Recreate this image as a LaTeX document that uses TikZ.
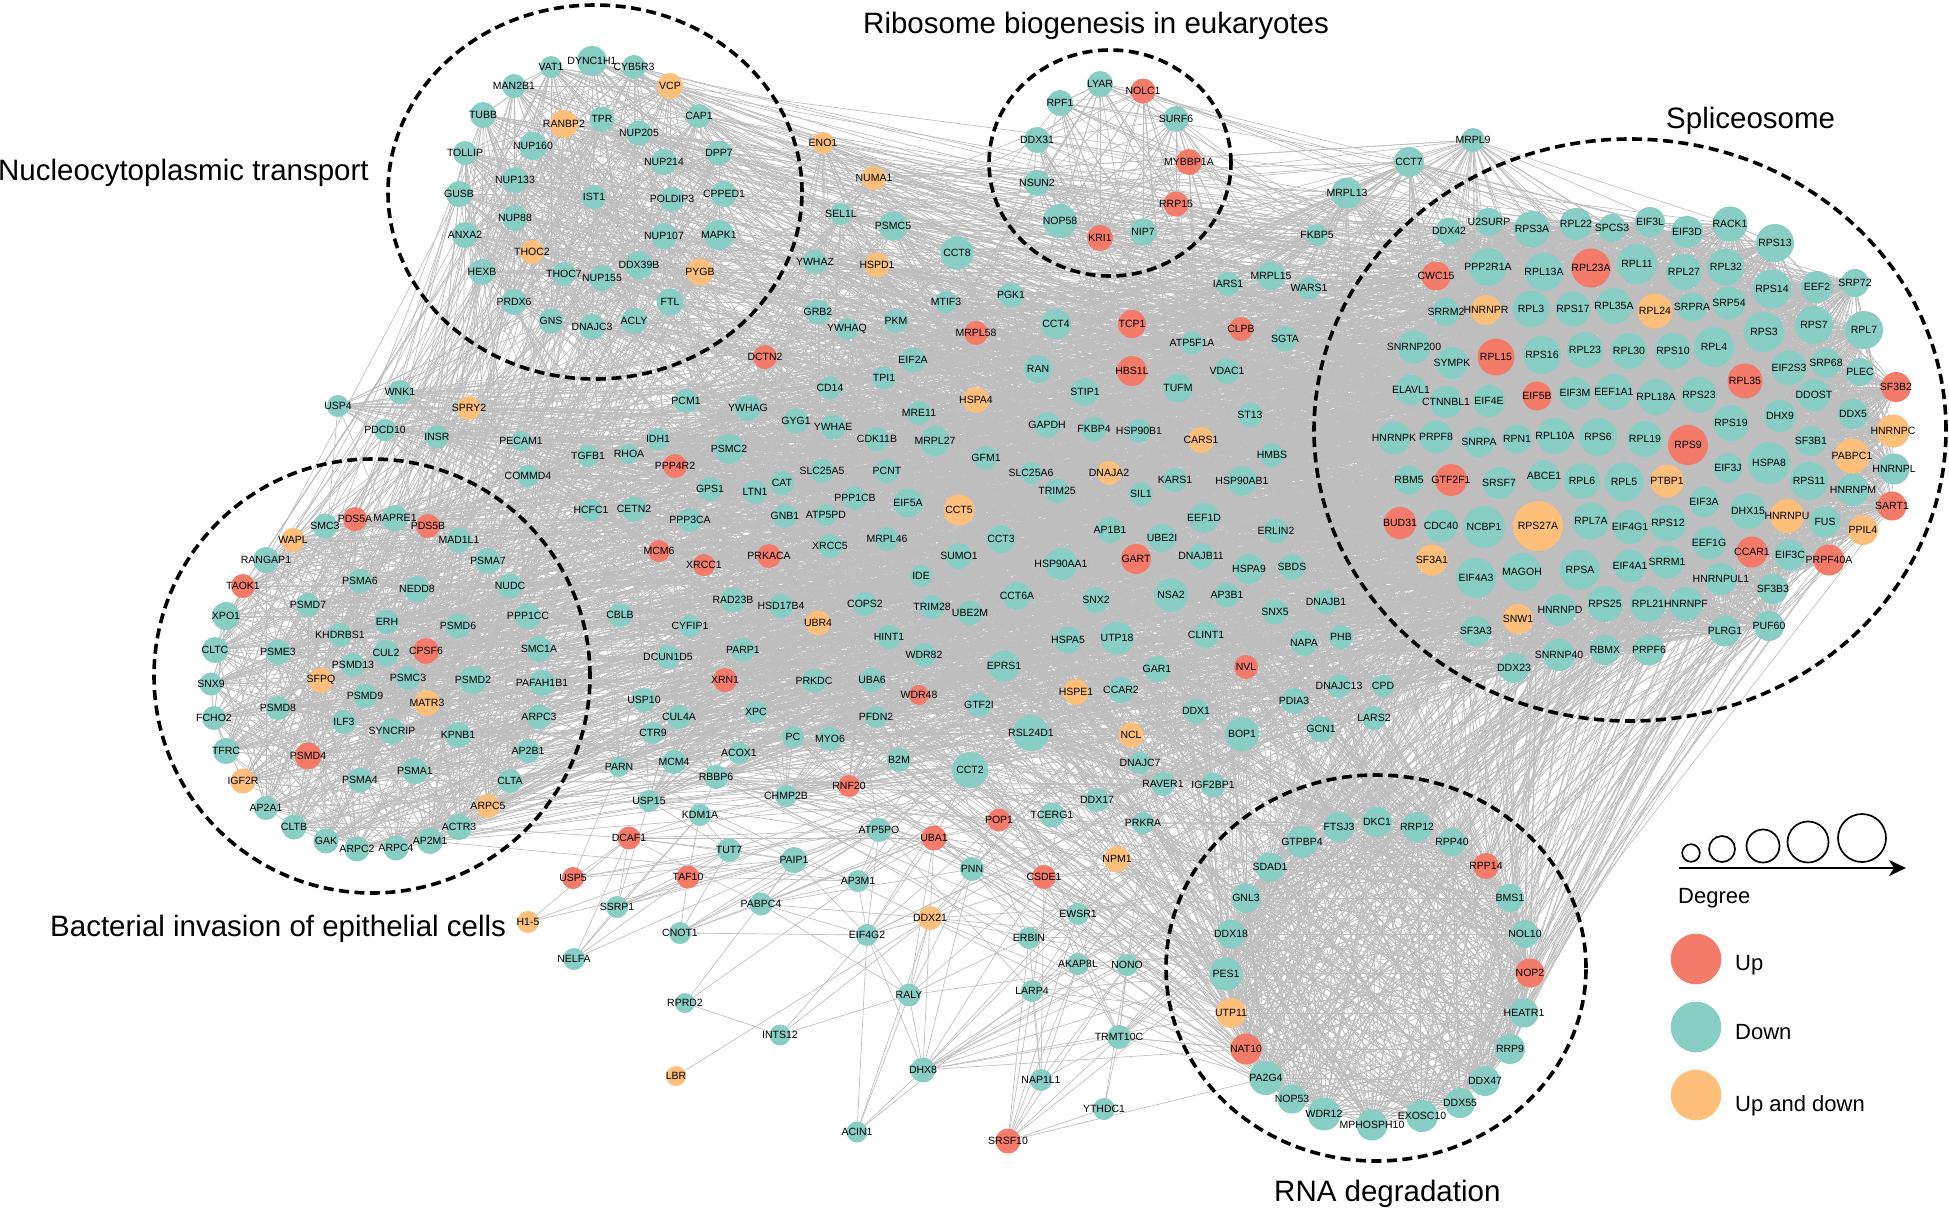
\documentclass[tikz,border=0pt]{standalone}
\usepackage{tikz}
\usepackage{fontspec}
\setmainfont{Liberation Sans}
\usetikzlibrary{arrows.meta}
\definecolor{cup}{RGB}{244,122,106}
\definecolor{cdn}{RGB}{137,206,196}
\definecolor{cud}{RGB}{253,191,121}
\definecolor{edgec}{RGB}{190,190,190}
\pgfdeclarelayer{bg}\pgfsetlayers{bg,main}
\tikzset{
 gene/.style={circle,draw=none,inner sep=0pt,outer sep=0pt},
 U/.style={fill=cup}, D/.style={fill=cdn}, B/.style={fill=cud},
 lab/.style={font=\fontsize{10.5}{11}\selectfont,inner sep=0pt,text=black},
 edge/.style={draw=edgec,line width=0.65pt},
 clus/.style={draw=black,line width=3.6pt,dash pattern=on 10pt off 5.5pt},
 title/.style={font=\fontsize{29.5}{32}\selectfont,inner sep=0pt,anchor=base west},
 legtxt/.style={font=\fontsize{22}{24}\selectfont,inner sep=0pt,anchor=base west},
 deg/.style={circle,draw=black,line width=1.7pt,fill=white,inner sep=0pt},
}
\newcommand\mkrand[2]{\gdef\mytmpl{}\foreach \x in #2 {\xdef\mytmpl{\mytmpl{\x}}}\edef\mytmpcmd{\noexpand\pgfmathdeclarerandomlist{#1}{\mytmpl}}\mytmpcmd}
\newcommand\links[3]{\foreach \src in #1 {\foreach \k in {1,...,#3} {\pgfmathrandomitem{\tgt}{#2}\draw[edge] (\src.center) -- (\tgt.center);}}}
\newcommand\placenodes[1]{\foreach \nm/\xx/\yy/\cc/\rad in #1 {\node[gene,\cc,minimum size=\rad*2pt] (\nm) at (\xx,\yy) {};}}
\newcommand\placelabels[1]{\foreach \nm/\xx/\yy/\cc/\rad in #1 {\node[lab] (\nm-t) at (\xx,\yy) {\nm};}}
\def\NTlist{TUBB,TOLLIP,GUSB,ANXA2,HEXB,VAT1,DYNC1H1,CYB5R3,MAN2B1,VCP,RANBP2,TPR,CAP1,NUP205,NUP160,DPP7,NUP214,NUP133,IST1,POLDIP3,CPPED1,NUP88,NUP107,MAPK1,THOC2,THOC7,NUP155,DDX39B,PYGB,PRDX6,FTL,GNS,DNAJC3,ACLY}
\def\RBlist{LYAR,NOLC1,RPF1,SURF6,DDX31,MYBBP1A,NSUN2,RRP15,NOP58,KRI1,NIP7}
\def\SPlist{DDX42,U2SURP,RPS3A,RPL22,SPCS3,EIF3L,EIF3D,RACK1,RPS13,CWC15,PPP2R1A,RPL13A,RPL23A,RPL11,RPL27,RPL32,RPS14,EEF2,SRP72,SRRM2,HNRNPR,RPL3,RPS17,RPL35A,RPL24,SRPRA,SRP54,RPS3,RPS7,RPL7,SNRNP200,SYMPK,RPL15,RPS16,RPL23,RPL30,RPS10,RPL4,RPL35,EIF2S3,SRP68,PLEC,SF3B2,ELAVL1,CTNNBL1,EIF4E,EIF5B,EIF3M,EEF1A1,RPL18A,RPS23,DDOST,RPS19,DHX9,DDX5,HNRNPC,HNRNPK,PRPF8,SNRPA,RPN1,RPL10A,RPS6,RPL19,RPS9,SF3B1,PABPC1,HNRNPL,EIF3J,HSPA8,RPS11,HNRNPM,SART1,RBM5,GTF2F1,SRSF7,ABCE1,RPL6,RPL5,PTBP1,EIF3A,DHX15,HNRNPU,FUS,PPIL4,BUD31,CDC40,NCBP1,RPS27A,RPL7A,EIF4G1,RPS12,EEF1G,CCAR1,EIF3C,PRPF40A,SF3A1,EIF4A3,MAGOH,RPSA,EIF4A1,SRRM1,HNRNPUL1,SF3B3,SF3A3,SNW1,HNRNPD,RPS25,RPL21,HNRNPF,PLRG1,PUF60,SNRNP40,RBMX,PRPF6,DDX23}
\def\BIlist{PDS5A,MAPRE1,PDS5B,SMC3,WAPL,MAD1L1,RANGAP1,PSMA7,TAOK1,PSMA6,NEDD8,NUDC,PSMD7,XPO1,PPP1CC,ERH,PSMD6,KHDRBS1,CLTC,PSME3,CUL2,CPSF6,SMC1A,PSMD13,SNX9,SFPQ,PSMC3,PSMD2,PAFAH1B1,PSMD9,MATR3,PSMD8,ARPC3,FCHO2,ILF3,SYNCRIP,KPNB1,TFRC,PSMD4,AP2B1,PSMA4,PSMA1,CLTA,IGF2R,ARPC5,AP2A1,ACTR3,CLTB,GAK,ARPC2,ARPC4,AP2M1}
\def\RNAlist{FTSJ3,DKC1,RRP12,RPP40,GTPBP4,SDAD1,RPP14,GNL3,BMS1,DDX18,NOL10,PES1,NOP2,UTP11,HEATR1,NAT10,RRP9,PA2G4,DDX47,NOP53,DDX55,WDR12,EXOSC10,MPHOSPH10}
\def\CENlist{ENO1,NUMA1,SEL1L,PSMC5,CCT8,YWHAZ,HSPD1,MTIF3,GRB2,YWHAQ,PKM,MRPL58,DCTN2,EIF2A,TPI1,CD14,PCM1,MRPL9,CCT7,MRPL13,FKBP5,IARS1,MRPL15,WARS1,PGK1,CCT4,TCP1,CLPB,ATP5F1A,SGTA,RAN,HBS1L,VDAC1,TUFM,STIP1,HSPA4,WNK1,USP4,SPRY2,PDCD10,INSR,YWHAG,GYG1,YWHAE,MRE11,PECAM1,IDH1,CDK11B,MRPL27,TGFB1,RHOA,PSMC2,PPP4R2,COMMD4,SLC25A5,PCNT,GPS1,LTN1,CAT,PPP1CB,EIF5A,CCT5,HCFC1,CETN2,PPP3CA,GNB1,ATP5PD,MCM6,XRCC1,PRKACA,XRCC5,MRPL46,SUMO1,IDE,RAD23B,HSD17B4,COPS2,TRIM28,UBE2M,CBLB,CYFIP1,UBR4,HINT1,PARP1,DCUN1D5,WDR82,XRN1,PRKDC,UBA6,WDR48,USP10,CUL4A,XPC,PFDN2,CTR9,PC,MYO6,ACOX1,B2M,PARN,MCM4,RBBP6,RNF20,CHMP2B,USP15,CCT2,ST13,GAPDH,FKBP4,HSP90B1,CARS1,HMBS,GFM1,SLC25A6,DNAJA2,KARS1,HSP90AB1,TRIM25,SIL1,EEF1D,ERLIN2,AP1B1,CCT3,UBE2I,GART,HSP90AA1,DNAJB11,HSPA9,SBDS,NSA2,CCT6A,SNX2,AP3B1,DNAJB1,SNX5,CLINT1,UTP18,HSPA5,NAPA,PHB,EPRS1,GAR1,NVL,HSPE1,CCAR2,DNAJC13,CPD,PDIA3,GTF2I,DDX1,LARS2,GCN1,RSL24D1,NCL,BOP1,DNAJC7,RAVER1,IGF2BP1,DDX17}
\def\LOWlist{POP1,TCERG1,PRKRA,NPM1,CSDE1,PNN,EWSR1,ERBIN,AKAP8L,NONO,LARP4,TRMT10C}
% name/x/y/colour/radius
\def\NTnodes{TUBB/483/115/D/13,TOLLIP/465/153/D/12,GUSB/459/194/D/13,ANXA2/465/235/D/13,HEXB/482/272/D/13,VAT1/551/67/D/11,DYNC1H1/592/61/D/15,CYB5R3/634/67/D/12,MAN2B1/514/86/D/12,VCP/670/86/B/13,RANBP2/564/124/B/14,TPR/602/119/D/12.5,CAP1/699/116/D/12,NUP205/639/133/D/12.5,NUP160/533/146/D/14,DPP7/719/153/D/12.5,NUP214/664/162/D/13,NUP133/515/180/D/13,IST1/594/197/D/12,POLDIP3/672/199/D/12.5,CPPED1/724/194/D/13,NUP88/515/218/D/13,NUP107/664/236/D/13,MAPK1/719/235/D/15,THOC2/532/252/B/12,THOC7/564/274/D/12,NUP155/602/278/D/13,DDX39B/639/265/D/14,PYGB/700/272/B/13.5,PRDX6/514/302/D/13,FTL/670/302/D/13.5,GNS/551/321/D/12.5,DNAJC3/592/327/D/13,ACLY/634/321/D/13}
\def\RBnodes{LYAR/1100/84/D/13,NOLC1/1143/91/U/12.5,RPF1/1060/103/D/13,SURF6/1176/119/D/13,DDX31/1037/140/D/13,MYBBP1A/1189/162/U/13,NSUN2/1037/183/D/13,RRP15/1176/204/U/12.5,NOP58/1060/221/D/17,KRI1/1100/238/U/13,NIP7/1143/232/D/13.5}
\def\CENnodesA{ENO1/823/143/B/11,NUMA1/874/178/B/12,SEL1L/841/214/D/11,PSMC5/893/226/D/14.5,CCT8/957/253/D/16.5,YWHAZ/815/262/D/12,HSPD1/877/265/B/12.5,MTIF3/946/302/D/11,GRB2/818/312/D/12.5,YWHAQ/847/329/D/11,PKM/896/321/D/12,MRPL58/976/333/U/12,DCTN2/765/357/U/12,EIF2A/913/360/D/12.5,TPI1/884/378/D/11.5,CD14/830/388/D/11.5,PCM1/686/401/D/12,MRPL9/1473/140/D/12,CCT7/1409/162/D/15,MRPL13/1347/193/D/15.5,FKBP5/1317/235/D/11,IARS1/1228/284/D/12,MRPL15/1271/276/D/14,WARS1/1309/288/D/11.5,PGK1/1011/295/D/12.5,CCT4/1056/324/D/15,TCP1/1132/324/U/14,CLPB/1241/329/U/12,ATP5F1A/1192/343/D/11.5,SGTA/1285/339/D/12.5,RAN/1038/369/D/14,HBS1L/1132/371/U/15,VDAC1/1227/371/D/13,TUFM/1178/388/D/14.5,STIP1/1085/392/D/14,HSPA4/976/400/B/13,WNK1/400/392/D/12,USP4/338/406/D/11,SPRY2/469/408/B/12,PDCD10/385/430/D/11,INSR/437/437/D/11.5}
\def\CENnodesB{YWHAG/748/408/D/13,GYG1/796/421/D/12.5,YWHAE/833/427/D/12.5,MRE11/919/413/D/12,PECAM1/521/441/D/10,IDH1/658/439/D/11,CDK11B/877/439/D/12,MRPL27/935/441/D/15,TGFB1/588/456/D/11,RHOA/629/454/D/10,PSMC2/729/449/D/15,PPP4R2/675/466/U/12,COMMD4/528/476/D/11,SLC25A5/822/471/D/12,PCNT/887/471/D/12,GPS1/710/489/D/12,LTN1/755/492/D/12,CAT/782/483/D/12,PPP1CB/855/498/D/12,EIF5A/908/503/D/14.5,CCT5/959/510/B/15.5,HCFC1/591/510/D/11,CETN2/634/509/D/12.5,PPP3CA/690/520/D/12,GNB1/785/516/D/12,ATP5PD/826/515/D/11,MCM6/659/551/U/11,XRCC1/704/565/U/11,PRKACA/769/556/U/12,XRCC5/830/546/D/12,MRPL46/887/539/D/12,SUMO1/959/556/D/13,IDE/921/576/D/11,RAD23B/733/600/D/12.5,HSD17B4/781/606/D/12,COPS2/865/604/D/12,TRIM28/932/607/D/12,UBE2M/970/613/D/12.5,CBLB/620/615/D/12,CYFIP1/690/626/D/11,UBR4/818/623/B/12.5,HINT1/889/637/D/12,PARP1/743/650/D/12,DCUN1D5/668/657/D/12,WDR82/924/655/D/12,XRN1/725/680/U/12,PRKDC/814/681/D/12,UBA6/872/680/D/12,WDR48/919/695/U/10,USP10/644/700/D/12,CUL4A/679/717/D/12,XPC/756/712/D/11,PFDN2/876/717/D/11,CTR9/653/733/D/11,PC/793/737/D/11,MYO6/830/739/D/12,ACOX1/739/753/D/11,B2M/899/760/D/12,PARN/619/767/D/10,MCM4/674/762/D/12,RBBP6/716/777/D/12,RNF20/849/786/U/11,CHMP2B/786/796/D/11,USP15/649/801/D/11,CCT2/970/770/D/18}
\def\CENnodesC{ST13/1250/415/D/12.5,GAPDH/1047/425/D/13,FKBP4/1094/429/D/12.5,HSP90B1/1139/431/D/12,CARS1/1201/440/B/13,HMBS/1272/455/D/12,GFM1/986/458/D/12,SLC25A6/1031/473/D/11,DNAJA2/1109/473/B/12,KARS1/1175/480/D/12,HSP90AB1/1242/481/D/15,TRIM25/1057/491/D/12,SIL1/1141/494/D/12,EEF1D/1204/518/D/15,ERLIN2/1276/531/D/12.5,AP1B1/1110/530/D/13,CCT3/1001/539/D/14,UBE2I/1162/538/D/14,GART/1136/559/U/15,HSP90AA1/1061/564/D/16,DNAJB11/1201/556/D/13,HSPA9/1249/569/D/15,SBDS/1292/567/D/13,NSA2/1171/595/D/17,CCT6A/1017/596/D/14,SNX2/1096/600/D/13,AP3B1/1227/595/D/12.5,DNAJB1/1326/602/D/12.5,SNX5/1275/612/D/12.5,CLINT1/1206/635/D/13,UTP18/1117/638/D/16.5,HSPA5/1068/640/D/13.5,NAPA/1304/643/D/13,PHB/1341/637/D/12,EPRS1/1004/666/D/15.5,GAR1/1157/669/D/13,NVL/1246/667/U/12,HSPE1/1076/692/B/13,CCAR2/1121/690/D/13,DNAJC13/1339/686/D/12,CPD/1383/686/D/11,PDIA3/1294/701/D/13,GTF2I/979/705/D/12,DDX1/1196/711/D/12.5,LARS2/1374/718/D/12,GCN1/1321/729/D/13,RSL24D1/1031/733/D/18,NCL/1131/735/B/12.5,BOP1/1242/734/D/17,DNAJC7/1140/763/D/11,RAVER1/1163/784/D/12,IGF2BP1/1213/785/D/12.5,DDX17/1097/800/D/12}
\def\SPnodesA{DDX42/1449/231/D/13.5,U2SURP/1489/222/D/14,RPS3A/1532/229/D/18,RPL22/1576/224/D/16,SPCS3/1612/228/D/14,EIF3L/1650/222/D/15,EIF3D/1687/232/D/16,RACK1/1730/224/D/17.5,RPS13/1775/243/D/19,CWC15/1436/276/U/14.5,PPP2R1A/1488/267/D/19,RPL13A/1544/272/D/19,RPL23A/1591/268/U/19.5,RPL11/1637/264/D/20,RPL27/1684/272/D/18,RPL32/1726/267/D/18.5,RPS14/1772/289/D/19.5,EEF2/1817/287/D/16,SRP72/1855/283/D/14,SRRM2/1446/312/D/14,HNRNPR/1486/310/B/15,RPL3/1531/309/D/18.5,RPS17/1573/309/D/17.5,RPL35A/1614/306/D/18,RPL24/1655/311/B/17.5,SRPRA/1692/307/D/14.5,SRP54/1729/303/D/16.5,RPS3/1764/332/D/20,RPS7/1814/325/D/19,RPL7/1864/330/D/19,SNRNP200/1414/347/D/16.5,SYMPK/1452/363/D/16,RPL15/1496/357/U/18.5,RPS16/1542/355/D/19,RPL23/1585/350/D/18,RPL30/1629/351/D/18,RPS10/1673/351/D/18,RPL4/1714/347/D/20,RPL35/1745/381/U/17.5,EIF2S3/1789/368/D/17.5,SRP68/1826/363/D/15,PLEC/1860/372/D/14,SF3B2/1896/387/U/15,ELAVL1/1411/390/D/15.5,CTNNBL1/1446/402/D/16,EIF4E/1489/401/D/16,EIF5B/1537/396/U/14.5,EIF3M/1575/393/D/16,EEF1A1/1614/392/D/18,RPL18A/1656/397/D/18,RPS23/1699/395/D/18,DDOST/1814/395/D/16}
\def\SPnodesB{RPS19/1731/423/D/18,DHX9/1780/416/D/16,DDX5/1853/414/D/15,HNRNPC/1893/431/B/16.5,HNRNPK/1394/438/D/16.5,PRPF8/1436/437/D/16.5,SNRPA/1479/442/D/15,RPN1/1517/439/D/14.5,RPL10A/1555/436/D/18,RPS6/1598/437/D/19,RPL19/1645/439/D/18,RPS9/1688/445/U/20,SF3B1/1811/441/D/15,PABPC1/1852/456/B/17.5,HNRNPL/1894/469/D/15.5,EIF3J/1728/468/D/14.5,HSPA8/1769/463/D/21,RPS11/1809/481/D/19,HNRNPM/1853/490/D/16,SART1/1892/506/U/14.5,RBM5/1409/480/D/14.5,GTF2F1/1451/480/U/16,SRSF7/1499/483/D/16,ABCE1/1544/476/D/15.5,RPL6/1582/481/D/18,RPL5/1624/482/D/19.5,PTBP1/1667/481/B/16.5,EIF3A/1704/502/D/15,DHX15/1748/511/D/18,HNRNPU/1787/516/B/17,FUS/1825/522/D/15.5,PPIL4/1863/530/B/15,BUD31/1400/523/U/16,CDC40/1441/526/D/16.5,NCBP1/1484/527/D/21,RPS27A/1538/526/B/25,RPL7A/1591/521/D/18.5,EIF4G1/1630/527/D/17,RPS12/1668/523/D/18.5,EEF1G/1709/543/D/16.5,CCAR1/1752/552/U/15.5,EIF3C/1790/555/D/15.5,PRPF40A/1829/560/U/15.5,SF3A1/1432/560/B/15.5,EIF4A3/1476/578/D/20,MAGOH/1522/572/D/19,RPSA/1580/570/D/20,EIF4A1/1630/566/D/16.5,SRRM1/1667/562/D/16.5,HNRNPUL1/1721/579/D/16,SF3B3/1773/589/D/15,SF3A3/1476/631/D/15,SNW1/1518/619/B/15,HNRNPD/1560/610/D/16,RPS25/1605/604/D/18,RPL21/1648/604/D/18,HNRNPF/1686/604/D/17,PLRG1/1725/631/D/15.5,PUF60/1769/626/D/15,SNRNP40/1559/655/D/16,RBMX/1605/650/D/15,PRPF6/1649/650/D/15.5,DDX23/1514/668/D/15}
\def\BInodes{PDS5A/355/519/U/12,MAPRE1/395/518/D/13,PDS5B/428/526/U/12,SMC3/325/526/D/12.5,WAPL/293/540/B/12,MAD1L1/459/540/D/12.5,RANGAP1/266/560/D/13,PSMA7/488/561/D/13,TAOK1/243/586/U/12,PSMA6/360/581/D/12,NEDD8/417/589/D/13,NUDC/510/586/D/12.5,PSMD7/308/605/D/12,XPO1/226/616/D/14,PPP1CC/528/616/D/13,ERH/387/622/D/12,PSMD6/458/626/D/12.5,KHDRBS1/340/635/D/12,CLTC/215/650/D/13,PSME3/278/652/D/12.5,CUL2/386/653/D/13,CPSF6/426/651/U/13,SMC1A/539/649/D/13,PSMD13/353/665/D/12,SNX9/211/684/D/11.5,SFPQ/321/680/B/12.5,PSMC3/408/678/D/12,PSMD2/473/680/D/14,PAFAH1B1/542/683/D/13,PSMD9/365/696/D/12,MATR3/427/703/B/13,PSMD8/278/708/D/12,ARPC3/539/717/D/12.5,FCHO2/214/718/D/12,ILF3/344/722/D/12,SYNCRIP/392/731/D/13,KPNB1/458/735/D/13,TFRC/226/751/D/13,PSMD4/308/756/U/13.5,AP2B1/528/751/D/12,PSMA4/360/780/D/12.5,PSMA1/415/771/D/13,CLTA/510/781/D/12,IGF2R/243/781/B/12.5,ARPC5/488/806/B/12,AP2A1/266/808/D/12,ACTR3/459/827/D/13,CLTB/294/827/D/12.5,GAK/326/841/D/12.5,ARPC2/357/849/D/12.5,ARPC4/396/848/D/12.5,AP2M1/430/841/D/13}
\def\PERnodes{USP5/573/878/U/11,DCAF1/629/838/U/11.5,KDM1A/700/815/D/11,TUT7/729/850/D/12,PAIP1/794/860/D/13,TAF10/688/877/U/11.5,SSRP1/617/907/D/11,PABPC4/761/904/D/11.5,CNOT1/680/933/D/11,NELFA/574/959/D/11,ATP5PO/879/830/D/12,UBA1/934/838/U/12.5,AP3M1/858/881/D/11,DDX21/930/918/B/12,EIF4G2/867/935/D/11,RALY/909/995/D/11.5,RPRD2/685/1003/D/10,INTS12/780/1035/D/10.5,DHX8/923/1070/D/12.5,LBR/676/1076/B/10,ACIN1/857/1132/D/10.5,PNN/972/869/D/12,POP1/999/820/U/11.5,TCERG1/1052/815/D/12.5,PRKRA/1143/823/D/11,NPM1/1117/859/B/13,CSDE1/1044/877/U/12,EWSR1/1078/914/D/11,ERBIN/1029/938/D/11,AKAP8L/1078/964/D/11,NONO/1127/965/D/11,LARP4/1032/991/D/11,TRMT10C/1119/1037/D/12,NAP1L1/1041/1080/D/11,YTHDC1/1104/1109/D/11,SRSF10/1008/1141/U/12.5}
\def\RNAnodes{FTSJ3/1339/827/D/15,DKC1/1377/822/D/15,RRP12/1417/827/D/15,RPP40/1452/842/D/14,GTPBP4/1302/842/D/16,SDAD1/1270/867/D/14.5,RPP14/1486/866/U/13,GNL3/1246/898/D/14.5,BMS1/1510/898/D/14,DDX18/1231/934/D/14.5,NOL10/1525/934/D/14,PES1/1226/974/D/16.5,NOP2/1530/973/U/14.5,UTP11/1231/1013/B/15,HEATR1/1524/1013/D/14.5,NAT10/1246/1049/U/15.5,RRP9/1510/1049/D/15,PA2G4/1266/1078/D/17,DDX47/1485/1081/D/15,NOP53/1292/1099/D/14.5,DDX55/1460/1103/D/15,WDR12/1324/1114/D/16.5,EXOSC10/1422/1116/D/16,MPHOSPH10/1372/1125/D/15.5}
\begin{document}
\begin{tikzpicture}[x=1pt,y=-1pt]
\useasboundingbox (0,0) rectangle (1949,1208);
% ---------- node discs
\placenodes{\NTnodes}\placenodes{\RBnodes}\placenodes{\CENnodesA}\placenodes{\CENnodesB}
\placenodes{\CENnodesC}\placenodes{\SPnodesA}\placenodes{\SPnodesB}\placenodes{\BInodes}
\placenodes{\PERnodes}\placenodes{\RNAnodes}
\node[gene,B,minimum size=22pt] (H15) at (528,922) {};
% ---------- edges (background layer)
\mkrand{nt}{\NTlist}\mkrand{rb}{\RBlist}\mkrand{sp}{\SPlist}\mkrand{bi}{\BIlist}
\mkrand{rna}{\RNAlist}\mkrand{cen}{\CENlist}
\pgfmathsetseed{4711}
\begin{pgfonlayer}{bg}
\fill[white] (0,0) rectangle (1949,1208);
\links{\SPlist}{sp}{36}
\links{\SPlist}{cen}{4}
\links{\NTlist}{nt}{11}
\links{\NTlist}{cen}{6}
\links{\NTlist}{sp}{5}
\links{\NTlist}{bi}{3}
\links{\RBlist}{rb}{7}
\links{\RBlist}{cen}{4}
\links{\RBlist}{sp}{4}
\links{\RBlist}{rna}{3}
\links{\BIlist}{bi}{11}
\links{\BIlist}{cen}{7}
\links{\BIlist}{sp}{4}
\links{\BIlist}{nt}{1}
\links{\RNAlist}{rna}{22}
\links{\RNAlist}{sp}{9}
\links{\RNAlist}{cen}{6}
\links{\CENlist}{cen}{8}
\links{\CENlist}{sp}{6}
\links{\CENlist}{rna}{1}
\links{\LOWlist}{sp}{3}
\links{\LOWlist}{cen}{3}
\links{\LOWlist}{rna}{3}
\links{{MRPL9,CCT7,MRPL13}}{sp}{12}
\links{{PLRG1,PUF60,SF3B3,HNRNPUL1,PRPF6,HNRNPF,RBMX,SNRNP40}}{rna}{7}
\foreach \p/\q in {H15/DCAF1,H15/PAIP1,H15/TUT7,NELFA/SSRP1,NELFA/DCAF1,NELFA/TAF10,NELFA/PAIP1,NELFA/KDM1A,
SSRP1/DCAF1,SSRP1/TAF10,SSRP1/TUT7,SSRP1/KDM1A,SSRP1/USP15,SSRP1/PAIP1,SSRP1/CCT2,SSRP1/ATP5PO,
USP5/DCAF1,USP5/TUT7,USP5/PAIP1,USP5/PARN,USP5/ATP5PO,
DCAF1/TUT7,DCAF1/PABPC4,DCAF1/ATP5PO,DCAF1/CCT2,DCAF1/UBA1,DCAF1/KDM1A,DCAF1/ACTR3,DCAF1/PAIP1,
TAF10/CNOT1,TAF10/TUT7,TAF10/AP3M1,TAF10/CCT2,TAF10/PAIP1,TAF10/KDM1A,
CNOT1/PAIP1,CNOT1/PABPC4,CNOT1/ATP5PO,CNOT1/UBA1,CNOT1/EIF4G2,CNOT1/TUT7,CNOT1/CCT2,
PABPC4/PAIP1,PABPC4/EIF4G2,PABPC4/AP3M1,PABPC4/RALY,PABPC4/CCT2,PABPC4/PNN,PABPC4/DDX21,PABPC4/UBA1,PABPC4/ATP5PO,PABPC4/PABPC1,
RPRD2/INTS12,RPRD2/PAIP1,RPRD2/AP3M1,INTS12/RALY,INTS12/EIF4G2,INTS12/DDX21,LBR/DDX21,
ACIN1/RALY,ACIN1/DHX8,ACIN1/EIF4G2,ACIN1/LARP4,ACIN1/DDX21,
DHX8/DDX21,DHX8/RALY,DHX8/EIF4G2,DHX8/PNN,DHX8/NONO,DHX8/AKAP8L,DHX8/EWSR1,DHX8/TRMT10C,DHX8/CSDE1,DHX8/NPM1,DHX8/PES1,DHX8/UTP11,DHX8/NAT10,DHX8/SDAD1,DHX8/GNL3,DHX8/DDX18,
RALY/DDX21,RALY/EIF4G2,RALY/NONO,RALY/PNN,RALY/CSDE1,RALY/EWSR1,RALY/UBA1,
EIF4G2/PAIP1,EIF4G2/AP3M1,EIF4G2/ATP5PO,EIF4G2/UBA1,EIF4G2/CCT2,EIF4G2/DDX21,EIF4G2/PABPC1,EIF4G2/EIF4A1,EIF4G2/EIF4E,
DDX21/UBA1,DDX21/NPM1,DDX21/PNN,DDX21/NAT10,DDX21/PES1,DDX21/GNL3,DDX21/BOP1,DDX21/NCL,DDX21/NOP2,
AP3M1/ATP5PO,AP3M1/PAIP1,AP3M1/CCT2,AP3M1/UBA1,AP3M1/AP2M1,AP3M1/AP1B1,AP3M1/AP3B1,
ATP5PO/UBA1,ATP5PO/CCT2,ATP5PO/ATP5F1A,ATP5PO/PAIP1,ATP5PO/TUT7,ATP5PO/ATP5PD,
UBA1/CCT2,UBA1/POP1,UBA1/PNN,UBA1/TCERG1,UBA1/NPM1,
PAIP1/TUT7,PAIP1/KDM1A,PAIP1/PABPC1,PAIP1/CCT2,TUT7/KDM1A,TUT7/USP15,TUT7/CCT2,
KDM1A/USP15,KDM1A/RBBP6,KDM1A/CHMP2B,KDM1A/CCT2,
SRSF10/NAP1L1,SRSF10/ERBIN,SRSF10/LARP4,SRSF10/AKAP8L,SRSF10/TRMT10C,SRSF10/NONO,SRSF10/EWSR1,SRSF10/PA2G4,SRSF10/HNRNPF,SRSF10/YTHDC1,
NAP1L1/LARP4,NAP1L1/ERBIN,NAP1L1/CSDE1,NAP1L1/TRMT10C,NAP1L1/NONO,NAP1L1/AKAP8L,
YTHDC1/NONO,YTHDC1/TRMT10C,TRMT10C/NAT10,TRMT10C/PA2G4,TRMT10C/NONO,TRMT10C/AKAP8L}
{\draw[edge] (\p.center) -- (\q.center);}
\end{pgfonlayer}
% ---------- labels on top of all discs
\placelabels{\NTnodes}\placelabels{\RBnodes}\placelabels{\CENnodesA}\placelabels{\CENnodesB}
\placelabels{\CENnodesC}\placelabels{\SPnodesA}\placelabels{\SPnodesB}\placelabels{\BInodes}
\placelabels{\PERnodes}\placelabels{\RNAnodes}
\node[lab] (H15-t) at (528,922) {H1-5};
% ---------- cluster outlines
\draw[clus] (595,192) ellipse [x radius=207pt, y radius=187pt];
\draw[clus] (1110,163) ellipse [x radius=121pt, y radius=113pt];
\draw[clus] (1630,430) ellipse [x radius=316pt, y radius=291pt];
\draw[clus] (372,676) ellipse [x radius=218pt, y radius=217pt];
\draw[clus] (1376,968) ellipse [x radius=210pt, y radius=193pt];
% ---------- titles
\node[title] (tNT) at (-2,180) {Nucleocytoplasmic transport};
\node[title] (tRB) at (863,33) {Ribosome biogenesis in eukaryotes};
\node[title] (tSP) at (1666,128) {Spliceosome};
\node[title] (tBI) at (50,936) {Bacterial invasion of epithelial cells};
\node[title] (tRNA) at (1274,1201) {RNA degradation};
% ---------- legend
\node[deg,minimum size=17.6pt] (deg1) at (1691,853) {};
\node[deg,minimum size=26pt] (deg2) at (1722,849) {};
\node[deg,minimum size=33pt] (deg3) at (1763,846) {};
\node[deg,minimum size=41pt] (deg4) at (1808,842) {};
\node[deg,minimum size=48pt] (deg5) at (1862,838) {};
\coordinate (ax1) at (1679,868);
\coordinate (ax2) at (1906,868);
\draw[line width=2pt,-{Stealth[length=17pt,width=16pt,inset=5pt]}] (ax1) -- (ax2);
\node[legtxt] (degt) at (1678,903) {Degree};
\node[gene,U,minimum size=50.6pt] (legU) at (1696,959) {};
\node[gene,D,minimum size=50.6pt] (legD) at (1696,1027) {};
\node[gene,B,minimum size=50.6pt] (legB) at (1696,1095) {};
\node[legtxt] (legUt) at (1735,970) {Up};
\node[legtxt] (legDt) at (1735,1039) {Down};
\node[legtxt] (legBt) at (1735,1111) {Up and down};
\end{tikzpicture}
\end{document}
